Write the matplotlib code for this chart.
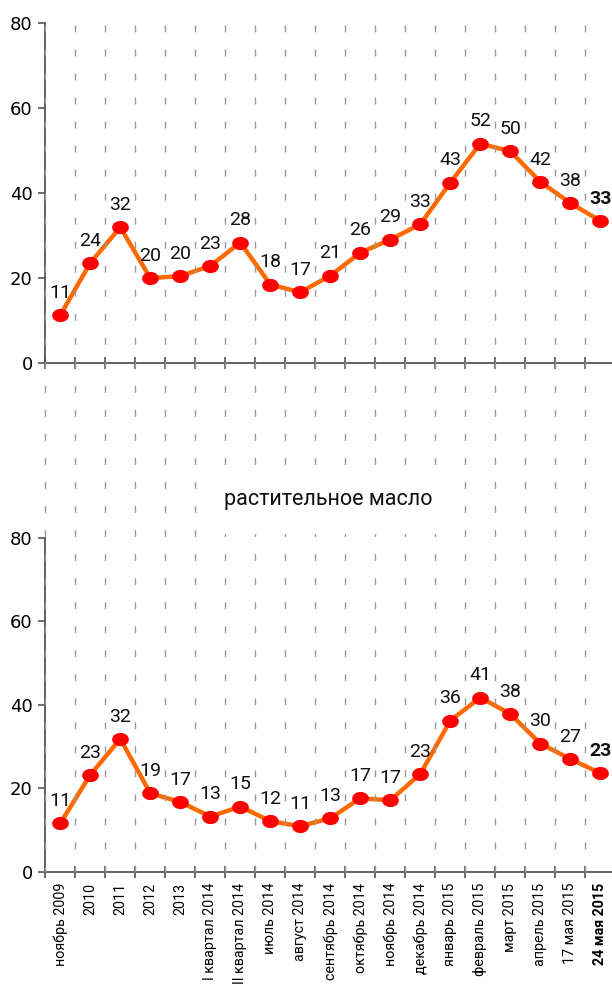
import matplotlib
matplotlib.use("Agg")
import matplotlib.pyplot as plt
import numpy as np
from matplotlib.path import Path
from matplotlib.transforms import blended_transform_factory
from matplotlib.lines import Line2D

categories = ["ноябрь 2009", "2010", "2011", "2012", "2013", "I квартал 2014",
              "II квартал 2014", "июль 2014", "август 2014", "сентябрь 2014",
              "октябрь 2014", "ноябрь 2014", "декабрь 2014", "январь 2015",
              "февраль 2015", "март 2015", "апрель 2015", "17 мая 2015", "24 мая 2015"]

top_values = [11.2, 23.5, 31.9, 19.9, 20.4, 22.8, 28.3, 18.4, 16.6, 20.5,
              25.9, 29.0, 32.6, 42.4, 51.6, 49.8, 42.6, 37.6, 33.4]
top_labels = ["11", "24", "32", "20", "20", "23", "28", "18", "17", "21",
              "26", "29", "33", "43", "52", "50", "42", "38", "33"]

bottom_values = [11.6, 23.2, 31.8, 18.8, 16.7, 13.2, 15.6, 12.1, 10.9, 12.8,
                 17.6, 17.1, 23.4, 36.2, 41.7, 37.8, 30.7, 27.0, 23.6]
bottom_labels = ["11", "23", "32", "19", "17", "13", "15", "12", "11", "13",
                 "17", "17", "23", "36", "41", "38", "30", "27", "23"]

bottom_title = "растительное масло"
yticks = [0, 20, 40, 60, 80]

NARROW = ["Roboto", "DejaVu Sans"]

W, H = 612, 994
fig = plt.figure(figsize=(W / 100, H / 100), dpi=100)

left = 45.3 / W
width = 570 / W

def fy(px):
    return 1 - px / H

ax_top = fig.add_axes([left, fy(362.7), width, (362.7 - 23) / H])
ax_bot = fig.add_axes([left, fy(871.7), width, (871.7 - 537.7) / H])

theta = np.linspace(0, 2 * np.pi, 60)
ell = Path(np.column_stack([1.3 * np.cos(theta), np.sin(theta)]), closed=True)

line_color = "#FF6A00"
marker_color = "#FF0000"
axis_color = "#555555"

x = np.arange(len(categories))

for ax, vals, labs in [(ax_top, top_values, top_labels), (ax_bot, bottom_values, bottom_labels)]:
    ax.set_facecolor("none")
    ax.set_xlim(-0.5, len(categories) - 0.5)
    ax.set_ylim(0, 80)
    ax.plot(x, vals, color=line_color, lw=3.2, zorder=3, solid_joinstyle="miter")
    ax.plot(x, vals, ls="none", marker=ell, markersize=11, color=marker_color,
            markeredgecolor=marker_color, zorder=4)
    for i, (v, l) in enumerate(zip(vals, labs)):
        ax.annotate(l, (i, v), xytext=(0, 16), textcoords="offset points",
                    ha="center", va="center", fontsize=14,
                    family=NARROW,
                    fontweight="bold" if i == len(vals) - 1 else "normal",
                    color="#111111", zorder=5)
    for s in ["top", "right"]:
        ax.spines[s].set_visible(False)
    for s in ["left", "bottom"]:
        ax.spines[s].set_color(axis_color)
        ax.spines[s].set_linewidth(1.3)
    ax.set_yticks(yticks)
    ax.set_yticklabels([str(t) for t in yticks], fontsize=13, family=["DejaVu Sans"])
    ax.set_xticks(np.arange(len(categories) + 1) - 0.5)
    ax.tick_params(axis="y", direction="out", length=5, width=1.2, color=axis_color, pad=4)
    ax.tick_params(axis="x", direction="inout", length=9, width=1.2, color=axis_color, pad=4)
    ax.set_xticklabels([])

# category labels on bottom axis (minor ticks at centers)
ax_bot.set_xticks(x, minor=True)
ax_bot.set_xticklabels(categories, minor=True, rotation=90, fontsize=10.3, family=NARROW, va="top")
ax_bot.tick_params(axis="x", which="minor", length=0, pad=8)
for t in ax_bot.get_xticklabels(minor=True):
    if t.get_text() == categories[-1]:
        t.set_fontweight("bold")

# vertical dashed gridlines spanning both panels
trans = blended_transform_factory(ax_top.transData, fig.transFigure)
for b in np.arange(len(categories)) - 0.5:
    ln = Line2D([b, b], [fy(25), fy(871.7)], transform=trans, color="#999999",
                lw=1.0, linestyle=(0, (5, 12.3)), zorder=0.5)
    fig.add_artist(ln)

fig.text(328 / W, fy(500), bottom_title, ha="center", va="center", fontsize=15.5,
         family=NARROW, color="#111111",
         bbox=dict(facecolor="white", edgecolor="none", boxstyle="square,pad=1.1"),
         zorder=6)

fig.savefig("out.png", dpi=100)
